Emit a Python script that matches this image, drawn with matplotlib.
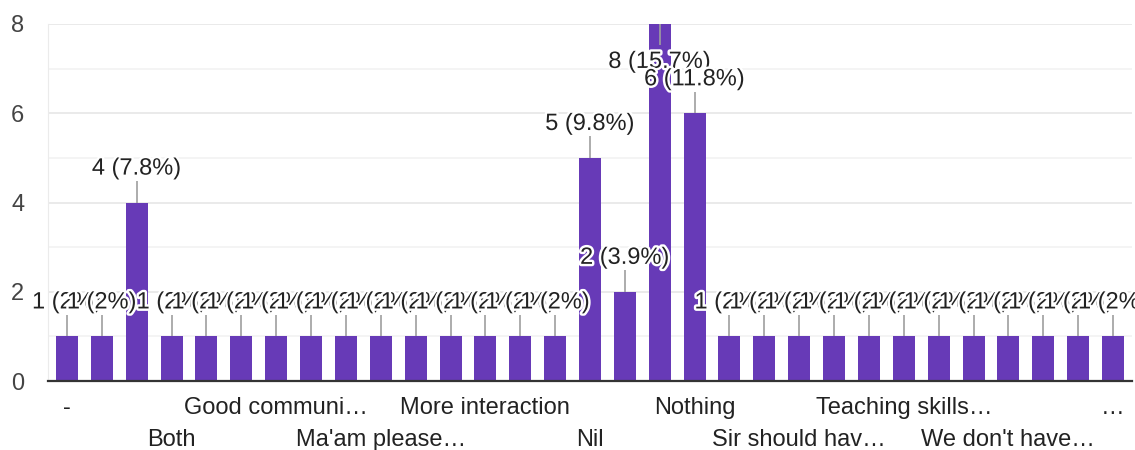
import matplotlib
matplotlib.use("Agg")
import matplotlib.pyplot as plt
import matplotlib.patheffects as pe
import numpy as np

# answers per response, in the order the form shows them
counts = [1, 1, 4, 1, 1, 1, 1, 1, 1, 1, 1, 1, 1, 1, 1,
          5, 2, 8, 6, 1, 1, 1, 1, 1, 1, 1, 1, 1, 1, 1, 1]

# only every third category gets a visible (truncated) label
x_labels = ["-", "", "", "Both", "", "", "Good communi…", "", "",
            "Ma'am please…", "", "", "More interaction", "", "", "Nil", "", "",
            "Nothing", "", "", "Sir should hav…", "", "", "Teaching skills…", "", "",
            "We don't have…", "", "", "…"]

y_ticks = [0, 2, 4, 6, 8]

plt.rcParams["font.family"] = ["Liberation Sans", "DejaVu Sans"]

total = sum(counts)
x = np.arange(len(counts))

fig = plt.figure(figsize=(11.35, 4.5), dpi=100)
ax = fig.add_axes([48 / 1135, 69 / 450, 1084 / 1135, 357 / 450])

ax.bar(x, counts, width=0.63, color="#673ab7", zorder=2)

ax.set_xlim(-0.545, len(counts) - 0.455)
ax.set_ylim(0, 8)
ax.set_yticks(y_ticks)
ax.set_yticks([1, 3, 5, 7], minor=True)
ax.grid(axis="y", which="major", color="#e8e8e8", lw=1.3, zorder=0)
ax.grid(axis="y", which="minor", color="#f3f3f3", lw=1.3, zorder=0)
ax.tick_params(axis="y", which="both", length=0, pad=17, labelsize=17, labelcolor="#444444")
ax.tick_params(axis="x", length=0, labelbottom=False)

for s in ["top", "right"]:
    ax.spines[s].set_visible(False)
ax.spines["left"].set_color("#ebebeb")
ax.spines["bottom"].set_color("#333333")
ax.spines["bottom"].set_linewidth(1.6)
ax.spines["bottom"].set_zorder(3)

# leader lines and value labels, drawn in order so later ones cover earlier ones
halo = [pe.withStroke(linewidth=3.5, foreground="white")]
for i, c in enumerate(counts):
    pct = round(c / total * 100, 1)
    text = f"{c} ({pct:g}%)"
    if c + 0.76 <= 7.6:
        ly, l0, l1 = c + 0.76, c, c + 0.48
    else:
        ly, l0, l1 = c - 0.85, c, c - 0.47
    ax.vlines(i, l0, l1, color="#9e9e9e", lw=1.2, zorder=3)
    ax.text(i, ly, text, ha="center", va="center", fontsize=17,
            color="#222222", path_effects=halo, zorder=4 + i * 0.01)

# staggered category labels
k = 0
for i, lab in enumerate(x_labels):
    if not lab:
        continue
    yy = -0.075 if k % 2 == 0 else -0.165
    ax.text(i, yy, lab, transform=ax.get_xaxis_transform(), ha="center",
            va="center", fontsize=17, color="#222222")
    k += 1

fig.savefig("out.png", dpi=100)
